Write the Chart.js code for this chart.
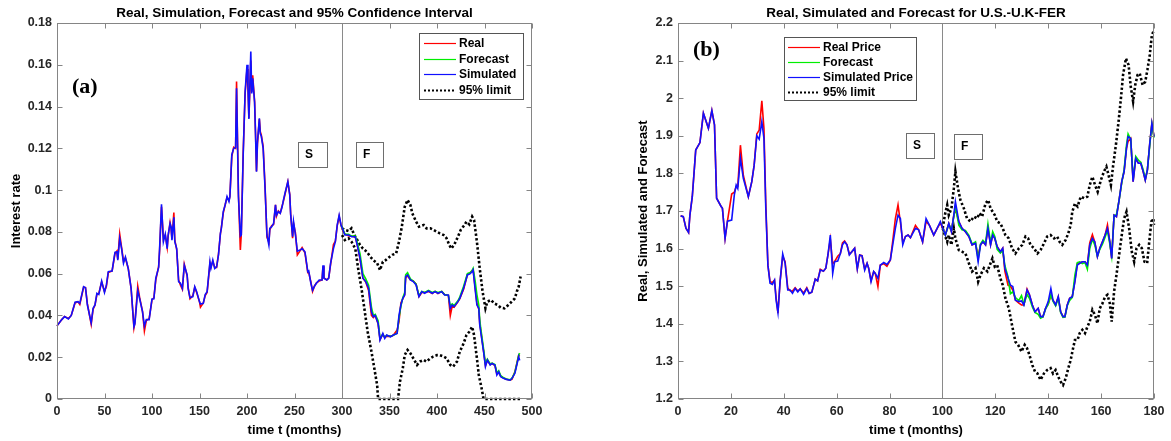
<!DOCTYPE html>
<html>
<head>
<meta charset="utf-8">
<script src="https://cdn.jsdelivr.net/npm/chart.js@4.4.1/dist/chart.umd.min.js"></script>
<style>
  html, body { margin: 0; padding: 0; background: #fff; }
  #wrap { position: relative; width: 1171px; height: 441px; overflow: hidden; }
  canvas { position: absolute; top: 0; }
  #chartA { left: 0; }
  #chartB { left: 585px; }
</style>
</head>
<body>
<div id="wrap">
  <canvas id="chartA" width="585" height="441"></canvas>
  <canvas id="chartB" width="586" height="441"></canvas>
</div>
<script>
// ---- (a) interest rate, months 0..487 ----
const tA = [
  0, 5, 8, 12, 15, 19, 22, 24, 28, 30,
  32, 36, 38, 40, 42, 44, 47, 50, 52, 54,
  58, 61, 63, 64, 66, 68, 70, 72, 75, 78,
  81, 82, 85, 87, 90, 92, 94, 97, 100, 102,
  104, 107, 108, 110, 112, 114, 116, 117, 119, 120,
  121, 123, 124, 126, 128, 130, 132, 134, 137, 138,
  140, 143, 145, 147, 150, 151, 154, 156, 158, 159,
  161, 162, 164, 166, 168, 170, 172, 173, 175, 177,
  179, 181, 182, 184, 186, 188, 189, 191, 193, 194,
  196, 198, 200, 201, 202, 204, 205, 206, 208, 209,
  210, 211, 213, 214, 215, 217, 219, 221, 223, 224,
  226, 228, 230, 231, 233, 235, 237, 238, 240, 243,
  245, 246, 248, 249, 251, 253, 256, 258, 261, 264,
  265, 267, 269, 271, 273, 276, 279, 280, 281, 284,
  286, 288, 291, 293, 295, 297, 299, 301, 303, 307,
  310, 314, 316, 319, 322, 325, 328, 331, 333, 335,
  338, 340, 343, 345, 347, 351, 354, 358, 360, 362,
  364, 366, 367, 369, 372, 375, 378, 381, 384, 387,
  391, 395, 398, 401, 405, 408, 412, 414, 416, 418,
  422, 424, 428, 430, 432, 435, 437, 438, 440, 442,
  444, 445, 446, 449, 451, 453, 456, 458, 461, 463,
  465, 467, 470, 473, 477, 479, 482, 484, 486, 487
];
const realA = [
  0.035, 0.038, 0.0395, 0.0385, 0.040, 0.046, 0.0466, 0.0452, 0.0535, 0.0533,
  0.0455, 0.0358, 0.043, 0.045, 0.050, 0.0505, 0.056, 0.0515, 0.054, 0.0605,
  0.0613, 0.0695, 0.0708, 0.067, 0.079, 0.0725, 0.066, 0.0675, 0.0625, 0.053,
  0.034, 0.0365, 0.054, 0.0485, 0.042, 0.0326, 0.0375, 0.0385, 0.0475, 0.0485,
  0.057, 0.0635, 0.071, 0.092, 0.0765, 0.0785, 0.0725, 0.078, 0.0845, 0.082,
  0.0765, 0.0893, 0.076, 0.0715, 0.057, 0.0545, 0.0525, 0.0645, 0.059, 0.0535,
  0.048, 0.0495, 0.0535, 0.051, 0.0465, 0.044, 0.046, 0.0495, 0.051, 0.0555,
  0.065, 0.063, 0.066, 0.063, 0.063, 0.0695, 0.079, 0.082, 0.089, 0.093,
  0.0965, 0.095, 0.097, 0.116, 0.1205, 0.12, 0.152, 0.098, 0.0713, 0.079,
  0.118, 0.146, 0.158, 0.150, 0.1345, 0.162, 0.147, 0.155, 0.1425, 0.127,
  0.109, 0.122, 0.134, 0.128, 0.1265, 0.121, 0.102, 0.0775, 0.075, 0.081,
  0.083, 0.0835, 0.093, 0.0875, 0.090, 0.089, 0.0925, 0.094, 0.098, 0.104,
  0.098, 0.0885, 0.077, 0.084, 0.0795, 0.069, 0.071, 0.0725, 0.070, 0.0605,
  0.0605, 0.0565, 0.0515, 0.054, 0.0555, 0.0565, 0.057, 0.0635, 0.058, 0.057,
  0.058, 0.0645, 0.074, 0.0755, 0.083, 0.0875, 0.083, 0.0805, 0.079, 0.078,
  0.078, 0.0775, 0.074, 0.067, 0.058, 0.056, 0.052, 0.040, 0.039, 0.040,
  0.036, 0.0285, 0.031, 0.0295, 0.030, 0.030, 0.0305, 0.033, 0.037, 0.046,
  0.048, 0.050, 0.058, 0.059, 0.057, 0.0565, 0.055, 0.049, 0.051, 0.051,
  0.0515, 0.0505, 0.0515, 0.0505, 0.0515, 0.050, 0.0495, 0.040, 0.0445, 0.044,
  0.0465, 0.048, 0.0525, 0.056, 0.0595, 0.0605, 0.0615, 0.062, 0.054, 0.046,
  0.043, 0.036, 0.033, 0.023, 0.016, 0.0185, 0.0165, 0.017, 0.016, 0.012,
  0.0125, 0.011, 0.010, 0.0095, 0.009, 0.0095, 0.013, 0.017, 0.021, 0.0205
];
const simA = [
  0.035, 0.038, 0.0395, 0.0383, 0.040, 0.0463, 0.0466, 0.0458, 0.0538, 0.0533,
  0.045, 0.0365, 0.0434, 0.045, 0.0506, 0.050, 0.0565, 0.051, 0.0546, 0.061,
  0.0613, 0.0702, 0.0705, 0.0665, 0.077, 0.072, 0.065, 0.068, 0.0625, 0.053,
  0.0346, 0.036, 0.052, 0.048, 0.0418, 0.035, 0.038, 0.038, 0.0479, 0.048,
  0.0578, 0.063, 0.072, 0.0932, 0.0753, 0.079, 0.072, 0.0785, 0.084, 0.0825,
  0.076, 0.087, 0.0753, 0.072, 0.0562, 0.0554, 0.053, 0.064, 0.0594, 0.053,
  0.0485, 0.049, 0.0538, 0.0514, 0.0466, 0.0455, 0.0458, 0.050, 0.0514, 0.056,
  0.0657, 0.0625, 0.0665, 0.0625, 0.0633, 0.069, 0.0793, 0.0817, 0.0897, 0.0929,
  0.0969, 0.0945, 0.0969, 0.117, 0.120, 0.1203, 0.1487, 0.0969, 0.078, 0.0785,
  0.117, 0.147, 0.160, 0.1495, 0.134, 0.1663, 0.1463, 0.1535, 0.142, 0.126,
  0.1088, 0.123, 0.1344, 0.127, 0.126, 0.120, 0.1009, 0.0785, 0.0737, 0.0817,
  0.0825, 0.084, 0.0929, 0.088, 0.0897, 0.0889, 0.092, 0.0945, 0.0985, 0.104,
  0.0977, 0.088, 0.0777, 0.0849, 0.0785, 0.0708, 0.0713, 0.072, 0.0705, 0.061,
  0.0613, 0.056, 0.052, 0.054, 0.0554, 0.057, 0.057, 0.064, 0.0578, 0.057,
  0.0578, 0.065, 0.072, 0.0753, 0.0833, 0.088, 0.0833, 0.081, 0.0785, 0.0785,
  0.0777, 0.0777, 0.0737, 0.0673, 0.0578, 0.0562, 0.053, 0.0418, 0.0394, 0.040,
  0.0362, 0.0282, 0.0314, 0.029, 0.0306, 0.0298, 0.0306, 0.0314, 0.040, 0.045,
  0.0482, 0.0498, 0.0586, 0.0594, 0.057, 0.0562, 0.0546, 0.049, 0.0514, 0.0506,
  0.0517, 0.0506, 0.0514, 0.0506, 0.0514, 0.0498, 0.0498, 0.0434, 0.045, 0.0442,
  0.0466, 0.0482, 0.053, 0.0562, 0.0594, 0.060, 0.061, 0.0618, 0.053, 0.045,
  0.0434, 0.0354, 0.0322, 0.0227, 0.0155, 0.0187, 0.0163, 0.017, 0.0163, 0.0115,
  0.013, 0.0107, 0.0099, 0.0094, 0.009, 0.0099, 0.0123, 0.0163, 0.0203, 0.0185
];
// forecast runs from month 299 onward (same months as tA)
const tFA = tA.slice(tA.indexOf(299));
const fcA = [
  0.0833, 0.0812, 0.079, 0.0788, 0.078, 0.078, 0.075, 0.0695, 0.060, 0.0575,
  0.0545, 0.044, 0.040, 0.0405, 0.0375, 0.029, 0.031, 0.0295, 0.0305, 0.030,
  0.0305, 0.0315, 0.039, 0.0445, 0.0485, 0.051, 0.0595, 0.0605, 0.0575, 0.0565,
  0.055, 0.0495, 0.0515, 0.051, 0.052, 0.051, 0.0515, 0.051, 0.0515, 0.050,
  0.0495, 0.0445, 0.0455, 0.0448, 0.047, 0.0488, 0.054, 0.057, 0.060, 0.0605,
  0.0615, 0.0625, 0.057, 0.050, 0.045, 0.038, 0.034, 0.024, 0.017, 0.019,
  0.0168, 0.0172, 0.0165, 0.0125, 0.0135, 0.0112, 0.0102, 0.0096, 0.0092, 0.010,
  0.0128, 0.0168, 0.021, 0.022
];
const tUpA = [
  300, 303, 307, 310, 313, 315, 319, 322, 326, 330,
  333, 337, 340, 343, 346, 350, 353, 357, 360, 363,
  366, 369, 372, 374, 378, 381, 386, 389, 393, 396,
  400, 403, 407, 410, 413, 415, 418, 422, 425, 429,
  431, 434, 437, 439, 442, 445, 448, 451, 453, 457,
  460, 464, 467, 471, 475, 478, 482, 484, 486, 488
];
const upperA = [
  0.0817, 0.081, 0.0804, 0.0817, 0.0785, 0.077, 0.0737, 0.072, 0.0705, 0.068,
  0.0665, 0.065, 0.0617, 0.0657, 0.0665, 0.068, 0.069, 0.0697, 0.0753, 0.0825,
  0.092, 0.0953, 0.0929, 0.0889, 0.0849, 0.0825, 0.0833, 0.0817, 0.0817, 0.081,
  0.080, 0.0793, 0.0785, 0.077, 0.0737, 0.072, 0.0737, 0.0777, 0.081, 0.0833,
  0.0849, 0.0836, 0.0873, 0.0857, 0.0753, 0.0625, 0.0514, 0.0434, 0.0466, 0.0474,
  0.0458, 0.045, 0.0437, 0.0434, 0.045, 0.0463, 0.0482, 0.0514, 0.0538, 0.0586
];
const tLoA = [
  300, 303, 307, 310, 314, 317, 321, 324, 327, 331,
  334, 337, 338, 342, 350, 359, 361, 364, 366, 369,
  372, 375, 379, 382, 386, 389, 393, 396, 400, 403,
  407, 410, 414, 417, 421, 424, 428, 431, 434, 437,
  439, 442, 444, 447, 449, 455, 465, 475, 488
];
const lowerA = [
  0.0785, 0.0761, 0.0769, 0.0753, 0.072, 0.0625, 0.0514, 0.0418, 0.0322, 0.0227,
  0.0147, 0.0067, 0, 0, 0, 0, 0.0083, 0.0147, 0.021, 0.0235,
  0.0219, 0.0195, 0.0163, 0.0179, 0.0187, 0.0179, 0.0195, 0.0203, 0.021, 0.021,
  0.0203, 0.0195, 0.0163, 0.0155, 0.0179, 0.0227, 0.0266, 0.0306, 0.0322, 0.0346,
  0.0306, 0.0195, 0.0115, 0.005, 0, 0, 0, 0, 0
];

// ---- (b) U.S.-U.K. exchange rate, months 1..180 ----
const tB = [
  1, 2, 3, 4, 4.5, 5.4, 6.7, 8.3, 9.6, 11.5,
  12.8, 13.8, 14.6, 16.3, 16.8, 17.8, 18.7, 20.3, 21.3, 22,
  22.6, 23.6, 24.7, 26.6, 27.9, 28.8, 29.8, 30.7, 31.7, 32.5,
  33.2, 34, 34.8, 35.7, 36.5, 37.1, 37.8, 38.6, 39.6, 40.5,
  41.5, 42.4, 43.3, 44.3, 45.3, 46.2, 47.5, 48.7, 49.6, 50.6,
  51.9, 52.8, 53.8, 55, 55.9, 56.7, 57.6, 58.5, 59.2, 60.4,
  61.4, 62.2, 63, 63.9, 64.8, 65.8, 66.8, 67.8, 68.7, 69.6,
  70.6, 71.5, 72.1, 73, 74, 74.6, 75.6, 76.5, 77.8, 79,
  80.3, 81.2, 82.2, 83.2, 84.1, 85, 86, 87, 87.9, 88.8,
  89.8, 91, 92.5, 93.8, 95, 96.7, 98, 99.2, 100.1, 101.1,
  102.4, 103.4, 104.3, 104.9, 106.2, 107.4, 108.7, 110, 111.2, 112.5,
  113.5, 114.4, 115.3, 116.3, 117.2, 118.2, 119, 119.8, 120.7, 121.9,
  122.8, 123.6, 124.8, 125.7, 126.6, 127.6, 128.9, 129.9, 130.8, 132,
  132.9, 134, 135, 136.2, 137.1, 138, 139, 140, 141, 141.8,
  142.8, 143.8, 144.7, 145.6, 146.3, 147.2, 148.1, 149.1, 150.1, 151,
  151.9, 152.9, 153.9, 154.8, 155.7, 156.7, 157.6, 158.6, 159.5, 160.5,
  161.5, 162.4, 163.3, 164, 164.9, 165.8, 166.8, 167.8, 168.7, 169.6,
  170.2, 171.2, 172.1, 173.1, 174.1, 175, 175.9, 176.7, 177.5, 178.4,
  179.2, 180
];
const realB = [
  1.687, 1.685, 1.654, 1.643, 1.689, 1.738, 1.862, 1.882, 1.960, 1.920,
  1.967, 1.929, 1.734, 1.712, 1.707, 1.627, 1.673, 1.745, 1.750, 1.765,
  1.765, 1.875, 1.795, 1.738, 1.778, 1.822, 1.905, 1.915, 1.993, 1.920,
  1.720, 1.556, 1.512, 1.510, 1.516, 1.470, 1.428, 1.512, 1.580, 1.565,
  1.495, 1.488, 1.487, 1.496, 1.487, 1.493, 1.482, 1.496, 1.481, 1.484,
  1.519, 1.514, 1.545, 1.540, 1.548, 1.583, 1.625, 1.560, 1.565, 1.580,
  1.587, 1.615, 1.620, 1.610, 1.585, 1.592, 1.601, 1.546, 1.583, 1.581,
  1.545, 1.561, 1.548, 1.515, 1.539, 1.534, 1.499, 1.556, 1.560, 1.553,
  1.570, 1.620, 1.680, 1.716, 1.670, 1.615, 1.632, 1.636, 1.629, 1.645,
  1.662, 1.650, 1.618, 1.672, 1.663, 1.636, 1.654, 1.668, 1.654, 1.636,
  1.667, 1.645, 1.689, 1.705, 1.672, 1.654, 1.645, 1.632, 1.610, 1.614,
  1.580, 1.610, 1.618, 1.610, 1.654, 1.610, 1.636, 1.627, 1.605, 1.592,
  1.601, 1.540, 1.503, 1.500, 1.490, 1.463, 1.455, 1.450, 1.450, 1.492,
  1.477, 1.450, 1.432, 1.441, 1.419, 1.419, 1.441, 1.452, 1.475, 1.463,
  1.450, 1.472, 1.432, 1.419, 1.419, 1.450, 1.468, 1.472, 1.515, 1.560,
  1.561, 1.565, 1.565, 1.556, 1.615, 1.637, 1.618, 1.579, 1.601, 1.618,
  1.636, 1.663, 1.618, 1.574, 1.689, 1.685, 1.729, 1.778, 1.805, 1.867,
  1.885, 1.893, 1.778, 1.840, 1.827, 1.827, 1.805, 1.782, 1.809, 1.880,
  1.933, 1.898
];
const simB = [
  1.687, 1.685, 1.654, 1.643, 1.689, 1.738, 1.862, 1.882, 1.960, 1.920,
  1.967, 1.929, 1.734, 1.712, 1.707, 1.627, 1.673, 1.676, 1.743, 1.769,
  1.760, 1.840, 1.787, 1.738, 1.778, 1.822, 1.900, 1.891, 1.938, 1.893,
  1.707, 1.556, 1.508, 1.505, 1.516, 1.463, 1.430, 1.512, 1.586, 1.561,
  1.490, 1.490, 1.481, 1.494, 1.485, 1.493, 1.478, 1.494, 1.481, 1.484,
  1.519, 1.514, 1.543, 1.540, 1.548, 1.583, 1.636, 1.534, 1.565, 1.567,
  1.587, 1.610, 1.618, 1.610, 1.583, 1.592, 1.601, 1.546, 1.583, 1.581,
  1.543, 1.561, 1.548, 1.512, 1.539, 1.534, 1.521, 1.556, 1.563, 1.558,
  1.570, 1.610, 1.654, 1.689, 1.680, 1.610, 1.632, 1.636, 1.629, 1.641,
  1.654, 1.650, 1.618, 1.680, 1.663, 1.636, 1.654, 1.672, 1.654, 1.636,
  1.667, 1.645, 1.689, 1.725, 1.672, 1.654, 1.645, 1.632, 1.610, 1.614,
  1.565, 1.610, 1.618, 1.610, 1.654, 1.610, 1.636, 1.627, 1.605, 1.592,
  1.601, 1.548, 1.521, 1.503, 1.499, 1.463, 1.459, 1.461, 1.450, 1.490,
  1.477, 1.450, 1.432, 1.441, 1.419, 1.419, 1.441, 1.459, 1.494, 1.463,
  1.450, 1.472, 1.432, 1.419, 1.419, 1.450, 1.468, 1.472, 1.512, 1.556,
  1.561, 1.565, 1.565, 1.556, 1.610, 1.627, 1.618, 1.579, 1.601, 1.618,
  1.636, 1.654, 1.618, 1.574, 1.689, 1.685, 1.729, 1.778, 1.805, 1.867,
  1.898, 1.893, 1.778, 1.840, 1.827, 1.827, 1.805, 1.782, 1.809, 1.880,
  1.933, 1.898
];
// forecast starts at month 100.1
const tFB = tB.slice(tB.indexOf(100.1));
const fcB = [
  1.654, 1.636,
  1.665, 1.648, 1.685, 1.712, 1.662, 1.650, 1.648, 1.635, 1.612, 1.618,
  1.572, 1.612, 1.622, 1.614, 1.665, 1.615, 1.645, 1.632, 1.598, 1.588,
  1.595, 1.555, 1.525, 1.480, 1.485, 1.470, 1.462, 1.475, 1.452, 1.478,
  1.468, 1.445, 1.430, 1.425, 1.415, 1.418, 1.440, 1.452, 1.478, 1.460,
  1.448, 1.468, 1.430, 1.417, 1.418, 1.448, 1.462, 1.470, 1.530, 1.563,
  1.565, 1.560, 1.563, 1.545, 1.600, 1.625, 1.610, 1.580, 1.598, 1.612,
  1.630, 1.648, 1.612, 1.580, 1.688, 1.690, 1.728, 1.775, 1.810, 1.875,
  1.905, 1.890, 1.785, 1.845, 1.835, 1.830, 1.810, 1.785, 1.810, 1.875,
  1.930, 1.895
];
const tUpB = [
  100.1, 100.9, 101.8, 102.4, 103.4, 104.3, 104.9, 105.9, 106.8, 108.1,
  109.3, 110.6, 111.9, 113.1, 114, 115, 116.3, 117.3, 118.2, 119,
  119.8, 120.7, 121.9, 122.8, 123.8, 125.1, 126.3, 127.6, 128.9, 130.2,
  131.4, 132.4, 133.3, 134.6, 135.9, 137.1, 138.4, 139.6, 140.9, 142.2,
  143.4, 144.3, 145.3, 146.6, 147.6, 148.5, 149.1, 150.1, 151.1, 152.3,
  153.6, 154.8, 155.7, 156.7, 157.7, 158.7, 159.9, 161.1, 162, 162.8,
  163.7, 164.5, 165.6, 166.6, 167.5, 168.3, 169.4, 170.4, 171.2, 172.1,
  172.9, 173.8, 174.6, 175.7, 176.7, 177.5, 178.4, 179.2, 180
];
const upperB = [
  1.654, 1.689, 1.716, 1.689, 1.707, 1.760, 1.805, 1.760, 1.729, 1.707,
  1.680, 1.672, 1.685, 1.680, 1.694, 1.685, 1.720, 1.729, 1.707, 1.698,
  1.689, 1.672, 1.667, 1.654, 1.636, 1.627, 1.601, 1.587, 1.601, 1.610,
  1.632, 1.627, 1.610, 1.601, 1.587, 1.596, 1.614, 1.632, 1.636, 1.627,
  1.632, 1.618, 1.610, 1.623, 1.641, 1.663, 1.698, 1.720, 1.712, 1.738,
  1.734, 1.738, 1.769, 1.791, 1.769, 1.751, 1.782, 1.805, 1.818, 1.796,
  1.769, 1.818, 1.876, 1.938, 2.000, 2.062, 2.106, 2.088, 2.031, 1.991,
  2.035, 2.062, 2.066, 2.035, 2.044, 2.075, 2.115, 2.168, 2.181
];
const tLoB = [
  100.1, 100.9, 101.8, 102.4, 103.4, 104.3, 104.9, 106.2, 107.4, 108.7,
  110, 111.2, 112.5, 113.5, 114.4, 115.7, 117, 117.9, 118.9, 119.8,
  120.7, 121.9, 122.8, 123.8, 125.1, 126.3, 127.6, 128.6, 129.9, 131.1,
  132, 132.9, 134, 135, 135.9, 137.1, 138.4, 139.6, 140.9, 141.8,
  142.8, 143.8, 144.7, 145.6, 146.6, 147.6, 148.5, 149.4, 150.1, 151.1,
  151.9, 152.9, 153.9, 154.8, 155.7, 156.7, 157.7, 158.6, 159.5, 160.5,
  161.5, 162.4, 163.3, 164, 164.9, 165.8, 166.8, 167.8, 168.7, 169.6,
  170.6, 171.6, 172.5, 173.4, 174.4, 175.4, 176.4, 177.4, 178.2, 179,
  179.7, 180
];
const lowerB = [
  1.654, 1.636, 1.618, 1.636, 1.610, 1.654, 1.627, 1.596, 1.592, 1.587,
  1.561, 1.539, 1.548, 1.512, 1.530, 1.548, 1.539, 1.556, 1.574, 1.552,
  1.556, 1.521, 1.503, 1.468, 1.441, 1.397, 1.352, 1.344, 1.326, 1.344,
  1.335, 1.317, 1.290, 1.273, 1.268, 1.251, 1.268, 1.277, 1.282, 1.268,
  1.277, 1.259, 1.246, 1.237, 1.255, 1.282, 1.304, 1.335, 1.357, 1.357,
  1.375, 1.384, 1.375, 1.392, 1.406, 1.437, 1.423, 1.401, 1.441, 1.454,
  1.472, 1.477, 1.454, 1.406, 1.485, 1.530, 1.583, 1.636, 1.680, 1.698,
  1.654, 1.592, 1.565, 1.601, 1.610, 1.601, 1.565, 1.561, 1.618, 1.672,
  1.680, 1.663
];

const SANS = '"Liberation Sans", Arial, Helvetica, sans-serif';
const SERIF = '"Liberation Serif", "Times New Roman", serif';
const INK = '#262626';
const AXIS = '#858585';

function pts(xs, ys) {
  return xs.map((x, i) => ({ x: x, y: ys[i] }));
}

function solid(label, color, xs, ys, order) {
  return {
    label: label, data: pts(xs, ys), borderColor: color, borderWidth: 1.6,
    pointRadius: 0, tension: 0, order: order, clip: 3
  };
}

function dotted(label, xs, ys, hidden) {
  return {
    label: label, data: pts(xs, ys), borderColor: '#000', borderWidth: 2.6,
    borderDash: [2.4, 2.2], pointRadius: 0, tension: 0, order: 4, clip: 4,
    noLegend: hidden
  };
}

// MATLAB-style frame: boxed axes, inward ticks, titles, split line, legend, S/F tags
const matlabFrame = {
  id: 'matlabFrame',
  beforeDatasetsDraw(chart, args, o) {
    const { ctx, chartArea: a, scales: { x } } = chart;
    const sx = Math.round(x.getPixelForValue(o.split)) + 0.5;
    ctx.save();
    ctx.strokeStyle = '#8a8a8a';
    ctx.lineWidth = 1;
    ctx.beginPath();
    ctx.moveTo(sx, a.top);
    ctx.lineTo(sx, a.bottom);
    ctx.stroke();
    ctx.restore();
  },
  afterDatasetsDraw(chart, args, o) {
    const { ctx, chartArea: a, scales: { x, y } } = chart;
    ctx.save();

    // axes box + inward ticks
    const L = Math.round(a.left) + 0.5, R = Math.round(a.right) - 0.5;
    const T = Math.round(a.top) + 0.5, B = Math.round(a.bottom) - 0.5;
    ctx.strokeStyle = AXIS;
    ctx.lineWidth = 1;
    ctx.strokeRect(L, T, R - L, B - T);
    ctx.beginPath();
    x.ticks.forEach(t => {
      const px = Math.round(x.getPixelForValue(t.value)) + 0.5;
      ctx.moveTo(px, B); ctx.lineTo(px, B - 5);
      ctx.moveTo(px, T); ctx.lineTo(px, T + 5);
    });
    y.ticks.forEach(t => {
      const py = Math.round(y.getPixelForValue(t.value)) + 0.5;
      ctx.moveTo(L, py); ctx.lineTo(L + 5, py);
      ctx.moveTo(R, py); ctx.lineTo(R - 5, py);
    });
    ctx.stroke();

    // titles
    const cx = (a.left + a.right) / 2;
    ctx.fillStyle = '#000';
    ctx.textAlign = 'center';
    ctx.textBaseline = 'middle';
    ctx.font = 'bold 13.5px ' + SANS;
    ctx.fillText(o.title, cx, 13);
    ctx.font = 'bold 13px ' + SANS;
    ctx.fillText(o.xTitle, cx, 430);
    ctx.save();
    ctx.translate(o.yTitleX, (a.top + a.bottom) / 2);
    ctx.rotate(-Math.PI / 2);
    ctx.fillText(o.yTitle, 0, 0);
    ctx.restore();

    // panel tag
    ctx.textAlign = 'left';
    ctx.font = 'bold 22px ' + SERIF;
    ctx.fillText(o.tag.text, o.tag.x, o.tag.y);

    // S / F boxes
    ctx.font = 'bold 12px ' + SANS;
    o.boxes.forEach(b => {
      ctx.fillStyle = '#fff';
      ctx.fillRect(b.x, b.y, b.w, b.h);
      ctx.strokeStyle = '#6e6e6e';
      ctx.strokeRect(b.x + 0.5, b.y + 0.5, b.w, b.h);
      ctx.fillStyle = '#000';
      ctx.fillText(b.text, b.x + 7, b.y + b.h / 2 + 0.5);
    });

    // legend
    const g = o.legend;
    ctx.fillStyle = '#fff';
    ctx.fillRect(g.x, g.y, g.w, g.h);
    ctx.strokeStyle = '#555';
    ctx.strokeRect(g.x + 0.5, g.y + 0.5, g.w, g.h);
    const items = chart.data.datasets.filter(d => !d.noLegend);
    items.forEach((d, i) => {
      const ry = g.rows[i] + 0.5;
      ctx.strokeStyle = d.borderColor;
      ctx.lineWidth = d.borderDash ? 2 : 1.2;
      ctx.setLineDash(d.borderDash ? [2, 2] : []);
      ctx.beginPath();
      ctx.moveTo(g.lineX0, ry);
      ctx.lineTo(g.lineX1, ry);
      ctx.stroke();
      ctx.setLineDash([]);
      ctx.fillStyle = '#000';
      ctx.fillText(d.label, g.textX, ry);
    });
    ctx.restore();
  }
};

function makeChart(id, cfg) {
  return new Chart(document.getElementById(id), {
    type: 'line',
    data: { datasets: cfg.datasets },
    plugins: [matlabFrame],
    options: {
      responsive: false,
      animation: false,
      devicePixelRatio: 1,
      layout: { padding: { left: 0, right: cfg.padRight, top: 23, bottom: 0 } },
      plugins: {
        legend: { display: false },
        title: { display: false },
        tooltip: { enabled: false },
        matlabFrame: cfg.frame
      },
      scales: {
        x: {
          type: 'linear', min: cfg.xMin, max: cfg.xMax,
          ticks: {
            stepSize: cfg.xStep, color: INK, padding: 5, maxRotation: 0,
            font: { family: SANS, size: 12.5, weight: 'bold' }
          },
          grid: { display: false, drawTicks: false },
          border: { display: false },
          afterFit: s => { s.height = 42; }
        },
        y: {
          type: 'linear', min: cfg.yMin, max: cfg.yMax,
          ticks: {
            stepSize: cfg.yStep, color: INK, padding: 5,
            font: { family: SANS, size: 12.5, weight: 'bold' },
            callback: v => String(+v.toFixed(cfg.yDigits))
          },
          grid: { display: false, drawTicks: false },
          border: { display: false },
          afterFit: s => { s.width = cfg.yWidth; }
        }
      }
    }
  });
}

makeChart('chartA', {
  datasets: [
    solid('Real', '#ff0000', tA, realA, 3),
    solid('Forecast', '#00ee00', tFA, fcA, 2),
    solid('Simulated', '#1010ff', tA, simA, 1),
    dotted('95% limit', tUpA, upperA, false),
    dotted('95% lower', tLoA, lowerA, true)
  ],
  padRight: 53, yWidth: 57,
  xMin: 0, xMax: 500, xStep: 50,
  yMin: 0, yMax: 0.18, yStep: 0.02, yDigits: 2,
  frame: {
    split: 300,
    title: 'Real, Simulation, Forecast and 95% Confidence Interval',
    xTitle: 'time t (months)',
    yTitle: 'Interest rate', yTitleX: 16,
    tag: { text: '(a)', x: 72, y: 87 },
    boxes: [
      { text: 'S', x: 298, y: 142, w: 29, h: 25 },
      { text: 'F', x: 356, y: 142, w: 27, h: 25 }
    ],
    legend: { x: 419, y: 33, w: 104, h: 66, rows: [43, 59, 74, 90], lineX0: 424, lineX1: 456, textX: 459 }
  }
});

makeChart('chartB', {
  datasets: [
    solid('Real Price', '#ff0000', tB, realB, 3),
    solid('Forecast', '#00ee00', tFB, fcB, 2),
    solid('Simulated Price', '#1010ff', tB, simB, 1),
    dotted('95% limit', tUpB, upperB, false),
    dotted('95% lower', tLoB, lowerB, true)
  ],
  padRight: 17, yWidth: 93,
  xMin: 0, xMax: 180, xStep: 20,
  yMin: 1.2, yMax: 2.2, yStep: 0.1, yDigits: 1,
  frame: {
    split: 100,
    title: 'Real, Simulated and Forecast for U.S.-U.K-FER',
    xTitle: 'time t (months)',
    yTitle: 'Real, Simulated and Forecast', yTitleX: 58,
    tag: { text: '(b)', x: 108, y: 50 },
    boxes: [
      { text: 'S', x: 321, y: 133, w: 28, h: 25 },
      { text: 'F', x: 369, y: 134, w: 28, h: 25 }
    ],
    legend: { x: 199, y: 37, w: 132, h: 63, rows: [47, 62, 77, 92], lineX0: 203, lineX1: 235, textX: 238 }
  }
});
</script>
</body>
</html>
